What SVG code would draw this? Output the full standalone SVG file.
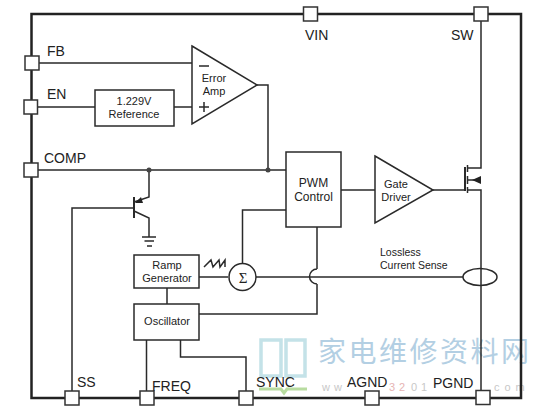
<svg xmlns="http://www.w3.org/2000/svg" width="536" height="413" viewBox="0 0 536 413">
<style>
text{font-family:"Liberation Sans",Arial,sans-serif;fill:#222}
.l{font-size:14px}
.s{font-size:11px;text-anchor:middle}
.w{font-family:"Noto Sans CJK SC","Liberation Sans",sans-serif;font-size:28px;fill:#b3cfe3;letter-spacing:2.5px}
.u{font-size:11px;fill:#c8c8c8;letter-spacing:4px}
.c{fill:none;stroke:#2a2a2a;stroke-width:1.5}
.b{fill:#fff;stroke:#2a2a2a;stroke-width:1.5}
.p{fill:#fff;stroke:#333;stroke-width:1.5}
</style>
<g id="watermark">
<path d="M261 340H281V376H261ZM286 340H305V376H286Z" fill="none" stroke="#c4e2e8" stroke-width="3.5"/>
<path d="M259 389H281L284 393L287 389H307" fill="none" stroke="#b8dca0" stroke-width="3"/>
<text class="w" x="318" y="362">家电维修资料网</text>
<text class="u" x="322" y="391">ww</text>
<text class="u" x="389" y="391" style="fill:#e6b4b4">32</text>
<text class="u" x="411" y="391">01</text>
<text class="u" x="494" y="391" style="letter-spacing:5px">com</text>
</g>
<g id="chip"><rect x="31.5" y="14" width="489.5" height="384" fill="none" stroke="#222" stroke-width="2.5"/></g>
<g id="connectors">
<path class="c" d="M38 63H192M37 107H95M174 107H192M38 170H286M257 85H268V170"/>
<path class="c" d="M149 170V197L134 202M134 211L149 218V237M142 237H156M144.500 241H154M147 246H152"/>
<path d="M134 197V218" fill="none" stroke="#2a2a2a" stroke-width="2"/>
<path class="c" d="M72 392V208H134"/>
<path class="c" d="M341 190H375M433 190H465"/>
<path class="c" d="M481 20V168H467M467 190H481V392M467 180H481"/>
<path fill="none" stroke="#2a2a2a" stroke-width="2" d="M465 167V191"/>
<path class="c" d="M467.500 165V172M467.500 176V184M467.500 187V193"/>
<path d="M472 180L481 176V184Z" fill="#222"/>
<path class="c" d="M242.500 264V210H286"/>
<path class="c" d="M199 277H228M256 277H463M167 288V304"/>
<path class="c" d="M199 314H317V284M317 269V227M317 269A7.500 7.500 0 0 0 317 284"/>
<path class="c" d="M146.500 340V392M180.500 340V357H246V392"/>
<path class="c" d="M204 267L211 260L213 267L219 260L220 267L225 260V267"/>
<ellipse class="c" cx="480" cy="277" rx="17" ry="8.500"/>
<path d="M135 203L141 197L143 203Z" fill="#222"/>
<circle cx="149" cy="170" r="2.500" fill="#444"/><circle cx="268" cy="170" r="2.500" fill="#444"/>
</g>
<g id="pin-fb"><rect class="p" x="25" y="56" width="14" height="14"/><text class="l" x="47" y="56">FB</text></g>
<g id="pin-en"><rect class="p" x="24" y="100" width="13.500" height="14"/><text class="l" x="47" y="99">EN</text></g>
<g id="pin-comp"><rect class="p" x="24" y="163" width="14" height="14"/><text class="l" x="44" y="163">COMP</text></g>
<g id="pin-vin"><rect class="p" x="303.500" y="7" width="14" height="14"/><text class="l" x="305" y="40">VIN</text></g>
<g id="pin-sw"><rect class="p" x="474" y="7" width="14" height="14"/><text class="l" x="451" y="40">SW</text></g>
<g id="pin-ss"><rect class="p" x="65" y="391" width="14" height="14"/><text class="l" x="77" y="387">SS</text></g>
<g id="pin-freq"><rect class="p" x="140" y="391" width="14" height="14"/><text class="l" x="152" y="391">FREQ</text></g>
<g id="pin-sync"><rect class="p" x="239" y="391" width="14" height="14"/><text class="l" x="256" y="387">SYNC</text></g>
<g id="pin-agnd"><rect class="p" x="365" y="391" width="14" height="14"/><text class="l" x="347" y="387">AGND</text></g>
<g id="pin-pgnd"><rect class="p" x="476" y="390.500" width="14" height="14"/><text class="l" x="433" y="388">PGND</text></g>
<g id="error-amp"><path class="b" d="M192 46L257 85L192 124Z"/><path class="c" d="M199 66H209M199 107H209M204 102V112"/><text class="s" x="214" y="82">Error</text><text class="s" x="214" y="95">Amp</text></g>
<g id="reference"><rect class="b" x="95" y="90" width="79" height="36"/><text class="s" x="134" y="105">1.229V</text><text class="s" x="134" y="118">Reference</text></g>
<g id="pwm"><rect class="b" x="286" y="152" width="55" height="75"/><text class="s" x="313.500" y="187" style="font-size:12px">PWM</text><text class="s" x="313.500" y="201" style="font-size:12px">Control</text></g>
<g id="gate-driver"><path class="b" d="M375 156L433 190L375 223Z"/><text class="s" x="396" y="188">Gate</text><text class="s" x="396" y="201">Driver</text></g>
<g id="ramp"><rect class="b" x="134" y="255" width="65" height="33"/><text class="s" x="167" y="269">Ramp</text><text class="s" x="167" y="282">Generator</text></g>
<g id="oscillator"><rect class="b" x="134" y="304" width="65" height="36"/><text class="s" x="167" y="325">Oscillator</text></g>
<g id="sum"><circle class="b" cx="242.500" cy="277" r="13.500"/><text x="243" y="282.500" text-anchor="middle" style="font-size:15px;font-family:'Liberation Serif',serif">Σ</text></g>
<g id="sense-label"><text x="380" y="256" style="font-size:10.500px">Lossless</text><text x="380" y="269" style="font-size:10.500px">Current Sense</text></g>
</svg>
